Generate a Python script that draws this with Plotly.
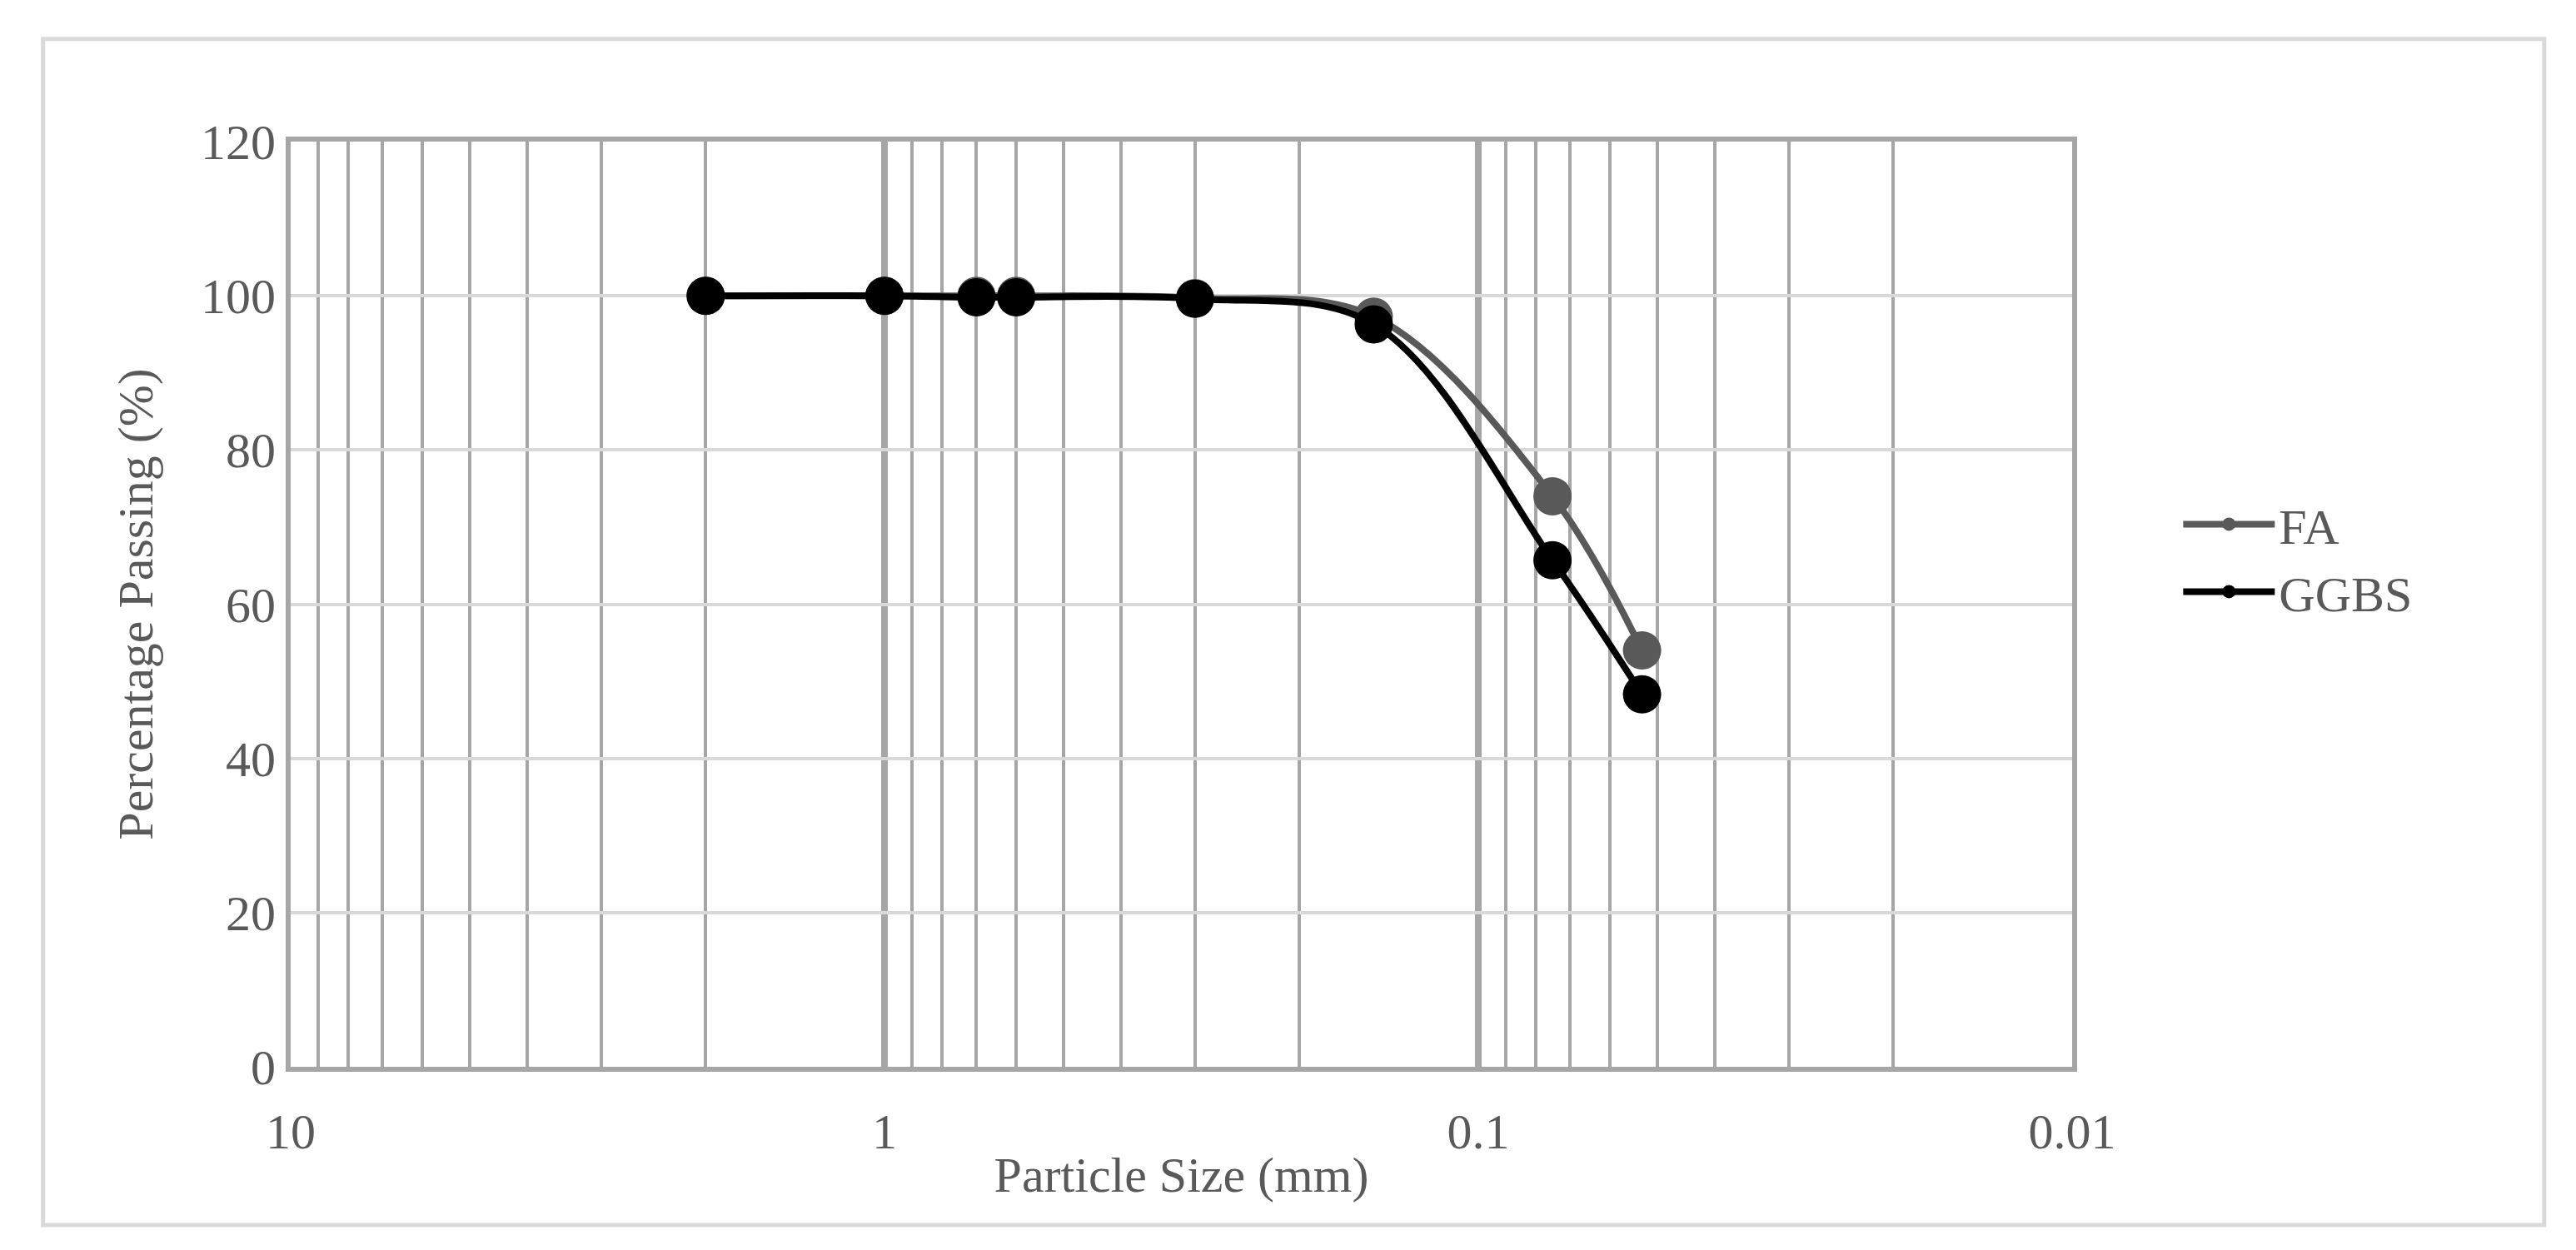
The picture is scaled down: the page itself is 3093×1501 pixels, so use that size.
import plotly.graph_objects as go

sizes = [2, 1, 0.7, 0.6, 0.3, 0.15, 0.075, 0.053]
fa = [100, 100, 100, 100, 99.7, 97.3, 74, 54]
ggbs = [100, 100, 99.8, 99.8, 99.6, 96.3, 65.7, 48.3]
xtick_vals = [10, 1, 0.1, 0.01]
xtick_text = ["10", "1", "0.1", "0.01"]
minor_vals = [m * d for d in (1, 0.1, 0.01) for m in (9, 8, 7, 6, 5, 4, 3, 2)]

fig = go.Figure()
fig.add_trace(go.Scatter(x=sizes, y=fa, name="FA", mode="lines+markers",
    line=dict(color="#595959", width=8, shape="spline"),
    marker=dict(size=46, color="#595959")))
fig.add_trace(go.Scatter(x=sizes, y=ggbs, name="GGBS", mode="lines+markers",
    line=dict(color="#000000", width=8, shape="spline"),
    marker=dict(size=46, color="#000000")))

font = dict(family="Liberation Serif", size=60, color="#595959")
fig.update_layout(
    width=3093, height=1501, plot_bgcolor="white", paper_bgcolor="white",
    font=font,
    margin=dict(l=341, r=3093-2480, t=162, b=1501-1273),
    legend=dict(x=1.06, y=0.55, yanchor="middle", xanchor="left", font=dict(size=60),
                itemsizing="trace", itemwidth=110),
    shapes=[dict(type="rect", xref="paper", yref="paper", x0=-0.139, x1=1.265, y0=-0.171, y1=1.111,
                 line=dict(color="#D9D9D9", width=5))],
)
fig.update_xaxes(type="log", range=[1, -2], autorange=False,
    tickvals=xtick_vals, ticktext=xtick_text, ticks="", ticklabelstandoff=20,
    showgrid=True, gridcolor="#A6A6A6", gridwidth=8,
    minor=dict(tickvals=minor_vals, showgrid=True, gridcolor="#A6A6A6", gridwidth=4, ticks=""),
    showline=True, linecolor="#A6A6A6", linewidth=6, mirror=True,
    zeroline=False,
    title=dict(text="Particle Size (mm)", standoff=0, font=dict(size=60)))
fig.update_yaxes(range=[0, 120], dtick=20, ticks="",
    showgrid=True, gridcolor="#D9D9D9", gridwidth=4, zeroline=False,
    showline=True, linecolor="#A6A6A6", linewidth=6, mirror=True,
    title=dict(text="Percentage Passing (%)", standoff=40, font=dict(size=60)))
fig.write_html("out.html")
